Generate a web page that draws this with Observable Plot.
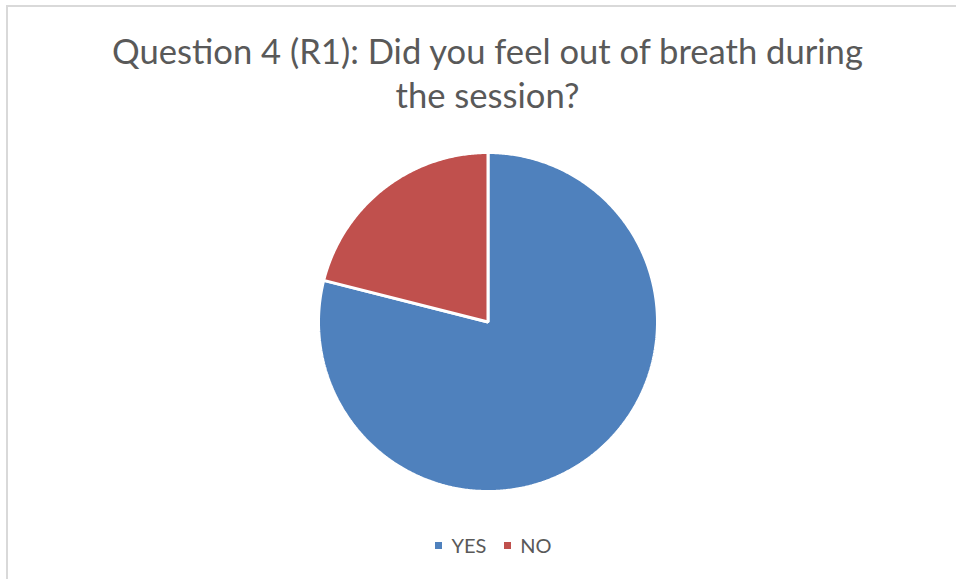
<!DOCTYPE html>
<html><head><meta charset="utf-8">
<script src="https://cdn.jsdelivr.net/npm/d3@7"></script>
<script src="https://cdn.jsdelivr.net/npm/@observablehq/plot@0.6"></script>
<style>
html,body{margin:0;padding:0;background:#fff;}
body{width:956px;height:579px;overflow:hidden;position:relative;font-family:Lato,"Open Sans",sans-serif;}
#frame{position:absolute;left:6px;top:5px;width:1000px;height:700px;border-left:2px solid #d9d9d9;border-top:2px solid #d9d9d9;box-sizing:border-box;}
#title{position:absolute;left:0;width:975px;top:29px;text-align:center;color:#595959;font-size:34.6px;line-height:44px;}
#chart{position:absolute;left:0;top:130px;}
#legend{position:absolute;left:6px;width:975px;top:533px;text-align:center;color:#595959;font-size:20px;line-height:24px;}
#legend span.item{display:inline-block;margin:0 9px;}
#legend span.sw{display:inline-block;width:7px;height:7px;margin-right:9px;vertical-align:middle;position:relative;top:-2px;}
</style>
</head><body>
<div id="frame"></div>
<div id="title">Question 4 (R1): Did you feel out of breath during<br>the session?</div>
<div id="chart"></div>
<div id="legend"></div>
<script>
const categories = ["YES", "NO"];
const values = [15, 4];
const colors = ["#4f81bd", "#c0504d"];

const W = 956, H = 383, R = 169.5, CX = 487.5, CY = 191.5;
const pie = d3.pie().sort(null).value(d => d.value)(categories.map((c, i) => ({cat: c, value: values[i]})));
const pts = [];
for (const s of pie) {
  pts.push({cat: s.data.cat, x: 0, y: 0});
  const n = Math.max(2, Math.ceil((s.endAngle - s.startAngle) / (Math.PI / 360)));
  for (let k = 0; k <= n; k++) {
    const a = s.startAngle + (s.endAngle - s.startAngle) * k / n;
    pts.push({cat: s.data.cat, x: Math.sin(a), y: Math.cos(a)});
  }
}
const chart = Plot.plot({
  width: W, height: H,
  margin: 0,
  x: {domain: [-CX / R, (W - CX) / R], axis: null},
  y: {domain: [-(H - CY) / R, CY / R], axis: null},
  color: {domain: categories, range: colors},
  marks: [
    Plot.line(pts, {x: "x", y: "y", z: "cat", fill: "cat", stroke: "white", strokeWidth: 3, curve: "linear-closed", strokeLinejoin: "miter"})
  ]
});
document.getElementById("chart").appendChild(chart);
const lg = document.getElementById("legend");
categories.forEach((c, i) => {
  const it = document.createElement("span");
  it.className = "item";
  const sw = document.createElement("span");
  sw.className = "sw";
  sw.style.background = colors[i];
  it.appendChild(sw);
  it.appendChild(document.createTextNode(c));
  lg.appendChild(it);
});
</script>
</body></html>
